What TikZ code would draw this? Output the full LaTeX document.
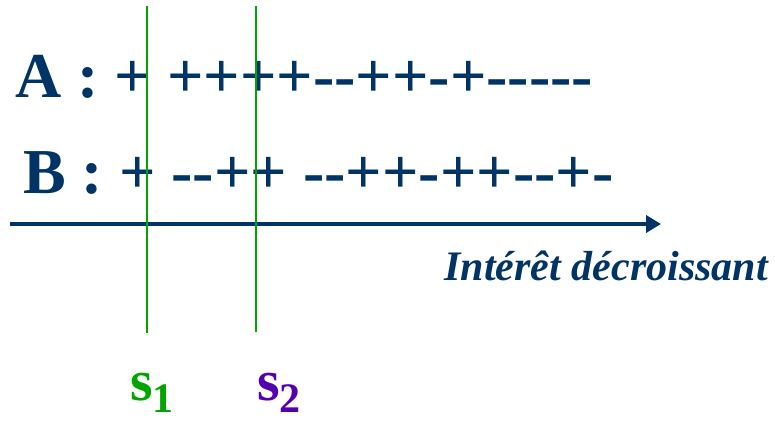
\documentclass[tikz,border=0pt]{standalone}
\usepackage{fontspec}
\setmainfont{Liberation Serif}
\usetikzlibrary{arrows.meta,positioning}
\definecolor{navy}{RGB}{0,51,102}
\definecolor{sepgreen}{RGB}{0,165,0}
\definecolor{sonepurple}{RGB}{85,0,175}
% a plain hyphen, kept apart from its neighbours
\newcommand\mn{-\kern0pt}

\begin{document}
\begin{tikzpicture}[x=1pt, y=-1pt, >={Triangle[length=15pt,width=17pt]}]
        \tikzset{seq/.style={anchor=base west, inner sep=0pt, text=navy, font=\fontsize{64}{64}\selectfont\bfseries},
                 sepline/.style={draw=sepgreen, line width=1.5pt},
                 slabel/.style={anchor=base west, inner sep=0pt, font=\fontsize{58}{58}\selectfont\bfseries}}
        \useasboundingbox (0,0) rectangle (775,421);

        \node[seq] (rowa) at (15,97) {A : + ++++\mn\mn++\mn+\mn\mn\mn\mn\mn};
        \node[seq] (rowb) at (23,193) {B : + \mn\mn++ \mn\mn++\mn++\mn\mn+\mn};

        \coordinate (axstart) at (10,224);
        \coordinate (axend) at (661,224);
        \draw[->, navy, line width=4pt] (axstart) -- (axend);
        \node[anchor=base east, inner sep=0pt, text=navy, font=\fontsize{42}{42}\selectfont\bfseries\itshape] (axlabel) at (768,280) {Intérêt décroissant};

        \coordinate (s1top) at (147,6);
        \coordinate (s1bot) at (147,333);
        \coordinate (s2top) at (256,6);
        \coordinate (s2bot) at (256,332);
        \draw[sepline] (s1top) -- (s1bot);
        \draw[sepline] (s2top) -- (s2bot);

        \node[slabel, text=sepgreen] (s1) at (130,400) {s\raisebox{-12pt}{\fontsize{42}{42}\selectfont 1}};
        \node[slabel, text=sonepurple] (s2) at (257,400) {s\raisebox{-12pt}{\fontsize{42}{42}\selectfont 2}};
    \end{tikzpicture}
\end{document}
